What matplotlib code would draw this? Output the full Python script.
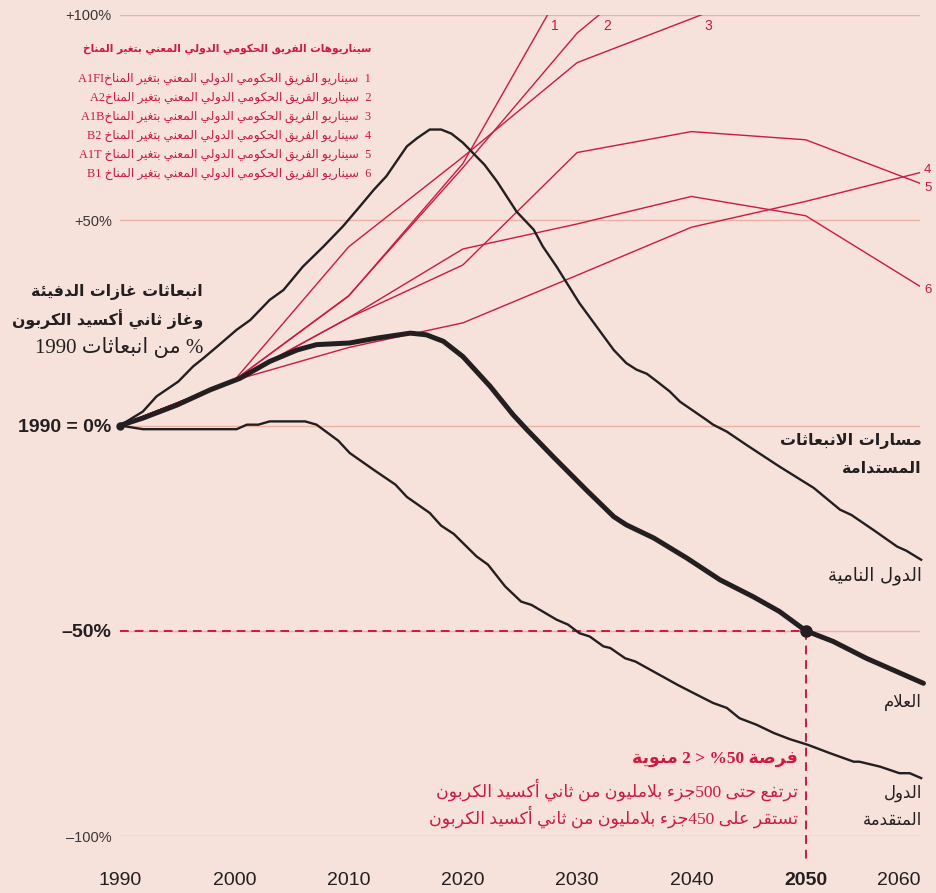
import re
import numpy as np
import matplotlib as mpl
mpl.use('Agg')
import matplotlib.pyplot as plt

plt.rcParams['font.family'] = ['Liberation Sans', 'DejaVu Sans']
plt.rcParams['axes.unicode_minus'] = False

BG = '#f6e1db'
GRID = '#e8b3a5'
RED = '#cc1a40'
INK = '#231f20'
W, H = 936, 893

# ---------------- data ----------------
developing_years = [1990, 1992.0, 1993.2, 1995.1, 1996.4, 1997.3, 1998.7, 2000.2, 2001.4, 2003.1,
                    2004.3, 2006.0, 2007.8, 2009.5, 2011.0, 2012.2, 2013.3, 2015.1, 2016.0, 2017.1,
                    2018.1, 2019.0, 2020.0, 2021.9, 2023.0, 2024.7, 2026.2, 2027.0, 2028.2, 2029.1,
                    2030.2, 2031.7, 2033.2, 2034.3, 2035.2, 2036.1, 2037.0, 2038.1, 2039.0, 2041.3,
                    2041.9, 2043.1, 2044.8, 2047.7, 2050.7, 2053.0, 2054.0, 2055.9, 2058.0, 2058.8,
                    2060.1]
developing_vals = [0, 3.4, 7.1, 10.7, 14.4, 16.4, 19.7, 23.3, 25.7, 30.6,
                   33.0, 38.7, 43.6, 48.5, 53.4, 57.4, 60.7, 68.0, 70.0, 72.1,
                   72.1, 71.1, 68.9, 63.5, 59.4, 52.1, 47.7, 43.6, 38.7, 34.7,
                   29.8, 24.1, 18.4, 15.2, 13.6, 12.6, 10.7, 8.3, 5.8, 1.4,
                   0.2, -1.5, -4.7, -10.0, -15.2, -20.5, -21.8, -25.4, -29.5, -30.5,
                   -32.7]

world_years = [1990, 1992.0, 1995.0, 1997.9, 2000.5, 2003.1, 2005.5, 2007.2, 2010.1, 2012.5,
               2015.4, 2016.8, 2018.3, 2020.0, 2022.4, 2024.4, 2025.6, 2027.9, 2030.8, 2033.2,
               2034.3, 2036.7, 2039.6, 2042.5, 2045.4, 2047.7, 2050.0, 2052.4, 2055.3, 2060.3]
world_vals = [0, 1.8, 5.0, 8.7, 11.5, 15.6, 18.4, 19.7, 20.1, 21.3,
              22.5, 22.1, 20.5, 16.8, 9.5, 2.6, -1.0, -7.6, -15.7, -22.2,
              -24.2, -27.4, -32.3, -37.6, -41.7, -45.3, -50.0, -52.6, -56.7, -62.8]

developed_years = [1990, 1992.0, 2000.2, 2001.1, 2002.1, 2003.1, 2006.2, 2007.2, 2009.1, 2010.1,
                   2012.2, 2014.1, 2015.1, 2017.1, 2018.1, 2019.2, 2021.2, 2022.2, 2023.7, 2025.1,
                   2026.0, 2028.2, 2029.2, 2030.2, 2031.1, 2032.3, 2032.9, 2034.2, 2035.1, 2036.4,
                   2037.7, 2038.8, 2040.2, 2041.9, 2043.1, 2044.2, 2045.7, 2047.2, 2048.6, 2050.2,
                   2052.1, 2054.2, 2054.7, 2056.5, 2058.2, 2059.1, 2060.1]
developed_vals = [0, -0.9, -0.9, 0.2, 0.2, 1.0, 1.0, 0.2, -3.7, -6.7,
                  -10.8, -14.4, -17.4, -21.3, -24.4, -26.4, -31.9, -33.9, -39.2, -42.9,
                  -43.7, -47.3, -48.5, -50.6, -51.4, -53.8, -54.2, -56.7, -57.5, -59.5,
                  -61.5, -63.2, -65.2, -67.6, -68.8, -71.3, -72.9, -74.9, -76.4, -77.8,
                  -79.8, -81.9, -81.9, -83.1, -84.7, -84.7, -85.9]

nan = np.nan
scenario_years = [1990, 2000, 2010, 2020, 2030, 2040, 2050, 2060]
scenario_codes = ['A1FI', 'A2', 'A1B', 'B2', 'A1T', 'B1']
a1fi = [0, 11, 31.5, 63.8, 112.7, nan, nan, nan]
a2 = [0, 11, 31.6, 62.8, 95.6, 118.6, nan, nan]
a1b = [0, 11, 43.5, 65.4, 88.4, 99.1, 110.0, nan]
b2 = [0, 11, 19.0, 25.0, 36.6, 48.3, 54.6, 61.6]
a1t = [0, 11, 26.2, 39.1, 66.5, 71.6, 69.6, 59.0]
b1 = [0, 11, 26.2, 43.0, 49.1, 55.8, 51.1, 33.9]
scenarios = [a1fi, a2, a1b, b2, a1t, b1]

target_year = 2050
target_level = -50

y_ticks = [100, 50, 0, -50, -100]
y_labels = ['+100%', '+50%', '1990 = 0%', '\u201350%', '\u2013100%']
x_ticks = [1990, 2000, 2010, 2020, 2030, 2040, 2050, 2060]

legend_title = 'سيناريوهات الفريق الحكومي الدولي المعني بتغير المناخ'
legend_entry = 'سيناريو الفريق الحكومي الدولي المعني بتغير المناخ'
left_title = ['انبعاثات غازات الدفيئة', 'وغاز ثاني أكسيد الكربون']
left_unit = '% من انبعاثات 1990'
right_title = ['مسارات الانبعاثات', 'المستدامة']
lbl_developing = 'الدول النامية'
lbl_world = 'العلام'
lbl_developed = ['الدول', 'المتقدمة']
note_head = 'فرصة %50 < 2 منوية'
note_lines = ['ترتفع حتى 500جزء بلامليون من ثاني أكسيد الكربون',
              'تستقر على 450جزء بلامليون من ثاني أكسيد الكربون']

# ---------------- minimal Arabic shaping + right-to-left ordering ----------------
FORMS = {
    'ء': (0xFE80, 1), 'آ': (0xFE81, 2), 'أ': (0xFE83, 2), 'ؤ': (0xFE85, 2), 'إ': (0xFE87, 2),
    'ئ': (0xFE89, 4), 'ا': (0xFE8D, 2), 'ب': (0xFE8F, 4), 'ة': (0xFE93, 2), 'ت': (0xFE95, 4),
    'ث': (0xFE99, 4), 'ج': (0xFE9D, 4), 'ح': (0xFEA1, 4), 'خ': (0xFEA5, 4), 'د': (0xFEA9, 2),
    'ذ': (0xFEAB, 2), 'ر': (0xFEAD, 2), 'ز': (0xFEAF, 2), 'س': (0xFEB1, 4), 'ش': (0xFEB5, 4),
    'ص': (0xFEB9, 4), 'ض': (0xFEBD, 4), 'ط': (0xFEC1, 4), 'ظ': (0xFEC5, 4), 'ع': (0xFEC9, 4),
    'غ': (0xFECD, 4), 'ف': (0xFED1, 4), 'ق': (0xFED5, 4), 'ك': (0xFED9, 4), 'ل': (0xFEDD, 4),
    'م': (0xFEE1, 4), 'ن': (0xFEE5, 4), 'ه': (0xFEE9, 4), 'و': (0xFEED, 2), 'ى': (0xFEEF, 2),
    'ي': (0xFEF1, 4),
}
LAM_ALEF = {'آ': 0xFEF5, 'أ': 0xFEF7, 'إ': 0xFEF9, 'ا': 0xFEFB}
MIRROR = {'<': '>', '>': '<', '(': ')', ')': '('}


def _dual(c):
    return c in FORMS and FORMS[c][1] == 4


def _joins(c):
    return c in FORMS and FORMS[c][1] > 1


def shape_word(w):
    out = []
    i = 0
    while i < len(w):
        c = w[i]
        prev = w[i - 1] if i > 0 else ''
        nxt = w[i + 1] if i + 1 < len(w) else ''
        link_prev = _dual(prev) and _joins(c)
        if c == 'ل' and nxt in LAM_ALEF:
            out.append(chr(LAM_ALEF[nxt] + (1 if link_prev else 0)))
            i += 2
            continue
        if c not in FORMS:
            out.append(c)
            i += 1
            continue
        base, n = FORMS[c]
        link_next = n == 4 and _joins(nxt)
        if link_prev and link_next:
            k = 3
        elif link_prev:
            k = 1
        elif link_next:
            k = 2
        else:
            k = 0
        out.append(chr(base + k))
        i += 1
    return ''.join(out)


def ar(text):
    runs = re.findall(r'[\u0621-\u064A]+|[A-Za-z0-9%]+|.', text)
    vis = []
    for r in runs:
        if '\u0621' <= r[0] <= '\u064A':
            vis.append(shape_word(r)[::-1])
        else:
            vis.append(MIRROR.get(r, r))
    return ''.join(vis[::-1])


SERIF_AR = ['Liberation Serif', 'DejaVu Sans']
SANS_AR = ['DejaVu Sans']


def ftext(x, y, s, **kw):
    kw.setdefault('ha', 'right')
    kw.setdefault('va', 'center')
    fig.text(x / W, 1 - y / H, s, **kw)


# ---------------- figure ----------------
fig = plt.figure(figsize=(W / 100, H / 100), dpi=100, facecolor=BG)
ax = fig.add_axes([120 / W, 57 / H, 800 / W, 821 / H])
ax.set_facecolor(BG)
ax.set_xlim(1990, 2060)
ax.set_ylim(-100, 100)
for s in ax.spines.values():
    s.set_visible(False)

for v in y_ticks:
    ax.axhline(v, color=GRID, lw=1.0, zorder=1)

# scenario lines
for vals in scenarios:
    ax.plot(scenario_years, vals, color=RED, lw=1.0, zorder=2)

# scenario number labels
for i, vals in enumerate(scenarios[:3]):
    v = np.array(vals)
    j = int(np.nanargmax(v > 100)) - 1
    cross = scenario_years[j] + (100 - v[j]) / (v[j + 1] - v[j]) * 10
    ax.annotate(str(i + 1), (cross, 100), xytext=(4, -4), textcoords='offset pixels',
                ha='left', va='top', color=RED, fontsize=10, annotation_clip=False)
end_offsets = [3, -5, -4]
for i, vals in enumerate(scenarios[3:]):
    ax.annotate(str(i + 4), (scenario_years[-1], vals[-1]), xytext=(4, end_offsets[i]),
                textcoords='offset pixels', ha='left', va='center', color=RED,
                fontsize=9.5, annotation_clip=False)

# target markers
ax.plot([1990, target_year], [target_level, target_level], color=RED, lw=1.4,
        ls=(0, (4.5, 3)), zorder=2.5)
ax.plot([target_year, target_year], [target_level, -106.3], color=RED, lw=1.4,
        ls=(0, (4.5, 3)), zorder=2.5, clip_on=False)

# pathways
ax.plot(developing_years, developing_vals, color=INK, lw=1.7, zorder=3, clip_on=False,
        solid_joinstyle='round')
ax.plot(developed_years, developed_vals, color=INK, lw=1.7, zorder=3, clip_on=False,
        solid_joinstyle='round')
ax.plot(world_years, world_vals, color=INK, lw=3.6, zorder=4, clip_on=False,
        solid_joinstyle='round', solid_capstyle='round')
ax.plot([1990], [0], 'o', color=INK, ms=5, zorder=5, clip_on=False)
ax.plot([target_year], [target_level], 'o', color=INK, ms=8, zorder=5)

# axes ticks
ax.set_yticks(y_ticks)
ax.set_yticklabels(y_labels)
ax.tick_params(axis='y', length=0, pad=6)
for k, t in enumerate(ax.get_yticklabels()):
    if k in (2, 3):
        t.set_fontweight('bold')
        t.set_fontsize(14)
        t.set_color(INK)
    else:
        t.set_fontsize(10.5)
        t.set_color('#3b3436')

ax.set_xticks(x_ticks)
ax.set_xticklabels([str(x) for x in x_ticks])
ax.tick_params(axis='x', length=0, pad=26, labelsize=14, labelcolor=INK)
for t in ax.get_xticklabels():
    if t.get_text() == str(target_year):
        t.set_fontweight('bold')
    if t.get_text() == str(x_ticks[-1]):
        t.set_ha('right')

# legend block
ftext(371, 49, ar(legend_title), color=RED, fontsize=7.6, fontweight='bold', family=SANS_AR)
for i, code in enumerate(scenario_codes):
    sep = '' if i < 3 else ' '
    ftext(371, 79 + 19 * i, ar(f'{i + 1}  {legend_entry}{sep}{code}'), color=RED,
          fontsize=8.8, family=SERIF_AR)

# left title
ftext(203, 292, ar(left_title[0]), color=INK, fontsize=11.3, fontweight='bold', family=SANS_AR)
ftext(203, 320, ar(left_title[1]), color=INK, fontsize=11.3, fontweight='bold', family=SANS_AR)
ftext(203, 348, ar(left_unit), color=INK, fontsize=15, family=SERIF_AR)

# right labels
ftext(922, 441, ar(right_title[0]), color=INK, fontsize=11.5, fontweight='bold', family=SANS_AR)
ftext(922, 468, ar(right_title[1]), color=INK, fontsize=11.5, fontweight='bold', family=SANS_AR)
ftext(922, 576, ar(lbl_developing), color=INK, fontsize=13, family=SANS_AR)
ftext(922, 702, ar(lbl_world), color=INK, fontsize=12, family=SANS_AR)
ftext(922, 793, ar(lbl_developed[0]), color=INK, fontsize=12, family=SANS_AR)
ftext(922, 820, ar(lbl_developed[1]), color=INK, fontsize=12, family=SANS_AR)

# target note
ftext(798, 759, ar(note_head), color=RED, fontsize=12.5, fontweight='bold', family=SERIF_AR)
ftext(798, 790, ar(note_lines[0]), color=RED, fontsize=12.5, family=SERIF_AR)
ftext(798, 817, ar(note_lines[1]), color=RED, fontsize=12.5, family=SERIF_AR)

fig.savefig('out.png', dpi=100, facecolor=BG)
